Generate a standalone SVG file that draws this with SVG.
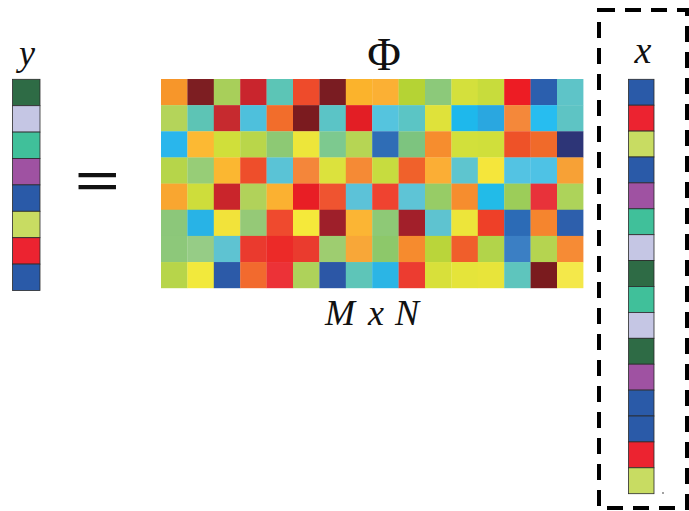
<svg xmlns="http://www.w3.org/2000/svg" width="689" height="511" viewBox="0 0 689 511">
<style>
.vc{stroke:#2a2a2a;stroke-width:0.8}
.lbl{font-family:"Liberation Serif","Times New Roman",serif;fill:#111}
.it{font-style:italic}
.box{fill:none;stroke:#000;stroke-width:4;stroke-dasharray:16 10}
</style>
<rect width="689" height="511" fill="#fff"/>
<g id="y-vector">
<text class="lbl it" x="27" y="65" font-size="36" text-anchor="middle">y</text>
<rect class="vc" x="12.5" y="79.3" width="27.5" height="26.4" fill="#2e6b45"/>
<rect class="vc" x="12.5" y="105.7" width="27.5" height="26.4" fill="#c5c6e4"/>
<rect class="vc" x="12.5" y="132.1" width="27.5" height="26.4" fill="#40c09a"/>
<rect class="vc" x="12.5" y="158.5" width="27.5" height="26.4" fill="#9f52a2"/>
<rect class="vc" x="12.5" y="184.9" width="27.5" height="26.4" fill="#2a5aa8"/>
<rect class="vc" x="12.5" y="211.3" width="27.5" height="26.4" fill="#c8dc62"/>
<rect class="vc" x="12.5" y="237.7" width="27.5" height="26.4" fill="#ec2330"/>
<rect class="vc" x="12.5" y="264.1" width="27.5" height="26.4" fill="#2a5aa8"/>
</g>
<g id="equals">
<text class="lbl" x="97.5" y="201" font-size="62" font-weight="bold" font-family="Liberation Sans, Arial, sans-serif" text-anchor="middle" transform="translate(97.5,0) scale(1.3,1) translate(-97.5,0)">=</text>
</g>
<g id="phi-matrix">
<text class="lbl" x="384" y="70" font-size="46" text-anchor="middle">Φ</text>
<g transform="translate(161,79)">
<rect x="0" y="0" width="26.6" height="26.4" fill="#f7962a"/><rect x="26.4" y="0" width="26.6" height="26.4" fill="#7d1e22"/><rect x="52.8" y="0" width="26.6" height="26.4" fill="#a8cf5a"/><rect x="79.2" y="0" width="26.6" height="26.4" fill="#c9252d"/><rect x="105.6" y="0" width="26.6" height="26.4" fill="#5cc5b6"/><rect x="132" y="0" width="26.6" height="26.4" fill="#ee4b2b"/><rect x="158.4" y="0" width="26.6" height="26.4" fill="#7a1c22"/><rect x="184.8" y="0" width="26.6" height="26.4" fill="#fbb32c"/><rect x="211.2" y="0" width="26.6" height="26.4" fill="#fbb034"/><rect x="237.6" y="0" width="26.6" height="26.4" fill="#b5d334"/><rect x="264" y="0" width="26.6" height="26.4" fill="#8cc97a"/><rect x="290.4" y="0" width="26.6" height="26.4" fill="#d4e03c"/><rect x="316.8" y="0" width="26.6" height="26.4" fill="#c8dc3c"/><rect x="343.2" y="0" width="26.6" height="26.4" fill="#ed1c24"/><rect x="369.6" y="0" width="26.6" height="26.4" fill="#2b5fae"/><rect x="396" y="0" width="26.4" height="26.4" fill="#5ec4c8"/>
<rect x="0" y="26.15" width="26.6" height="26.4" fill="#b4d45a"/><rect x="26.4" y="26.15" width="26.6" height="26.4" fill="#5dc4b5"/><rect x="52.8" y="26.15" width="26.6" height="26.4" fill="#c62a2f"/><rect x="79.2" y="26.15" width="26.6" height="26.4" fill="#4ec0dc"/><rect x="105.6" y="26.15" width="26.6" height="26.4" fill="#f26d2b"/><rect x="132" y="26.15" width="26.6" height="26.4" fill="#7b1b1f"/><rect x="158.4" y="26.15" width="26.6" height="26.4" fill="#5bc4c6"/><rect x="184.8" y="26.15" width="26.6" height="26.4" fill="#e31e25"/><rect x="211.2" y="26.15" width="26.6" height="26.4" fill="#55c4de"/><rect x="237.6" y="26.15" width="26.6" height="26.4" fill="#5bc5c5"/><rect x="264" y="26.15" width="26.6" height="26.4" fill="#dfe23a"/><rect x="290.4" y="26.15" width="26.6" height="26.4" fill="#1eb8ec"/><rect x="316.8" y="26.15" width="26.6" height="26.4" fill="#2aa7e0"/><rect x="343.2" y="26.15" width="26.6" height="26.4" fill="#f4883a"/><rect x="369.6" y="26.15" width="26.6" height="26.4" fill="#27bdf0"/><rect x="396" y="26.15" width="26.4" height="26.4" fill="#5ec4c4"/>
<rect x="0" y="52.3" width="26.6" height="26.4" fill="#29b6ec"/><rect x="26.4" y="52.3" width="26.6" height="26.4" fill="#fcb933"/><rect x="52.8" y="52.3" width="26.6" height="26.4" fill="#d0df3a"/><rect x="79.2" y="52.3" width="26.6" height="26.4" fill="#b9d64a"/><rect x="105.6" y="52.3" width="26.6" height="26.4" fill="#8dc974"/><rect x="132" y="52.3" width="26.6" height="26.4" fill="#ede63a"/><rect x="158.4" y="52.3" width="26.6" height="26.4" fill="#7dc98f"/><rect x="184.8" y="52.3" width="26.6" height="26.4" fill="#b6d554"/><rect x="211.2" y="52.3" width="26.6" height="26.4" fill="#2f6db6"/><rect x="237.6" y="52.3" width="26.6" height="26.4" fill="#7dc47f"/><rect x="264" y="52.3" width="26.6" height="26.4" fill="#f68d2e"/><rect x="290.4" y="52.3" width="26.6" height="26.4" fill="#d2e03b"/><rect x="316.8" y="52.3" width="26.6" height="26.4" fill="#d0df3b"/><rect x="343.2" y="52.3" width="26.6" height="26.4" fill="#ee5228"/><rect x="369.6" y="52.3" width="26.6" height="26.4" fill="#f06a2a"/><rect x="396" y="52.3" width="26.4" height="26.4" fill="#2d3577"/>
<rect x="0" y="78.45" width="26.6" height="26.4" fill="#b6d54a"/><rect x="26.4" y="78.45" width="26.6" height="26.4" fill="#97cd77"/><rect x="52.8" y="78.45" width="26.6" height="26.4" fill="#fbb731"/><rect x="79.2" y="78.45" width="26.6" height="26.4" fill="#ee4e2b"/><rect x="105.6" y="78.45" width="26.6" height="26.4" fill="#5ac3d6"/><rect x="132" y="78.45" width="26.6" height="26.4" fill="#f4863a"/><rect x="158.4" y="78.45" width="26.6" height="26.4" fill="#dce23d"/><rect x="184.8" y="78.45" width="26.6" height="26.4" fill="#f58a35"/><rect x="211.2" y="78.45" width="26.6" height="26.4" fill="#c7dc3f"/><rect x="237.6" y="78.45" width="26.6" height="26.4" fill="#f0612b"/><rect x="264" y="78.45" width="26.6" height="26.4" fill="#fbae35"/><rect x="290.4" y="78.45" width="26.6" height="26.4" fill="#5ec5cf"/><rect x="316.8" y="78.45" width="26.6" height="26.4" fill="#f5e63b"/><rect x="343.2" y="78.45" width="26.6" height="26.4" fill="#53c3e3"/><rect x="369.6" y="78.45" width="26.6" height="26.4" fill="#4ec2e5"/><rect x="396" y="78.45" width="26.4" height="26.4" fill="#f7a136"/>
<rect x="0" y="104.6" width="26.6" height="26.4" fill="#f9a630"/><rect x="26.4" y="104.6" width="26.6" height="26.4" fill="#cedd3b"/><rect x="52.8" y="104.6" width="26.6" height="26.4" fill="#c9252b"/><rect x="79.2" y="104.6" width="26.6" height="26.4" fill="#b1d25a"/><rect x="105.6" y="104.6" width="26.6" height="26.4" fill="#fbb131"/><rect x="132" y="104.6" width="26.6" height="26.4" fill="#e81e25"/><rect x="158.4" y="104.6" width="26.6" height="26.4" fill="#ef5430"/><rect x="184.8" y="104.6" width="26.6" height="26.4" fill="#5cc2d8"/><rect x="211.2" y="104.6" width="26.6" height="26.4" fill="#ef4330"/><rect x="237.6" y="104.6" width="26.6" height="26.4" fill="#5ec4d6"/><rect x="264" y="104.6" width="26.6" height="26.4" fill="#97cc66"/><rect x="290.4" y="104.6" width="26.6" height="26.4" fill="#f68d2e"/><rect x="316.8" y="104.6" width="26.6" height="26.4" fill="#22bbe8"/><rect x="343.2" y="104.6" width="26.6" height="26.4" fill="#9ccd59"/><rect x="369.6" y="104.6" width="26.6" height="26.4" fill="#e8323a"/><rect x="396" y="104.6" width="26.4" height="26.4" fill="#add35a"/>
<rect x="0" y="130.75" width="26.6" height="26.4" fill="#8cc77a"/><rect x="26.4" y="130.75" width="26.6" height="26.4" fill="#28b3e6"/><rect x="52.8" y="130.75" width="26.6" height="26.4" fill="#f2e33a"/><rect x="79.2" y="130.75" width="26.6" height="26.4" fill="#95c977"/><rect x="105.6" y="130.75" width="26.6" height="26.4" fill="#ef4a2e"/><rect x="132" y="130.75" width="26.6" height="26.4" fill="#f5e93a"/><rect x="158.4" y="130.75" width="26.6" height="26.4" fill="#9e1f2a"/><rect x="184.8" y="130.75" width="26.6" height="26.4" fill="#fbb534"/><rect x="211.2" y="130.75" width="26.6" height="26.4" fill="#8ec976"/><rect x="237.6" y="130.75" width="26.6" height="26.4" fill="#a21f2a"/><rect x="264" y="130.75" width="26.6" height="26.4" fill="#5ec3d0"/><rect x="290.4" y="130.75" width="26.6" height="26.4" fill="#ede53a"/><rect x="316.8" y="130.75" width="26.6" height="26.4" fill="#ee4028"/><rect x="343.2" y="130.75" width="26.6" height="26.4" fill="#2c6bb6"/><rect x="369.6" y="130.75" width="26.6" height="26.4" fill="#f5852e"/><rect x="396" y="130.75" width="26.4" height="26.4" fill="#2d5fac"/>
<rect x="0" y="156.9" width="26.6" height="26.4" fill="#8dc87a"/><rect x="26.4" y="156.9" width="26.6" height="26.4" fill="#96cc86"/><rect x="52.8" y="156.9" width="26.6" height="26.4" fill="#5ec3d2"/><rect x="79.2" y="156.9" width="26.6" height="26.4" fill="#ea3a2e"/><rect x="105.6" y="156.9" width="26.6" height="26.4" fill="#ec2a28"/><rect x="132" y="156.9" width="26.6" height="26.4" fill="#ea3b2e"/><rect x="158.4" y="156.9" width="26.6" height="26.4" fill="#9ecd70"/><rect x="184.8" y="156.9" width="26.6" height="26.4" fill="#f8a738"/><rect x="211.2" y="156.9" width="26.6" height="26.4" fill="#8dc86a"/><rect x="237.6" y="156.9" width="26.6" height="26.4" fill="#f68b2e"/><rect x="264" y="156.9" width="26.6" height="26.4" fill="#bad53a"/><rect x="290.4" y="156.9" width="26.6" height="26.4" fill="#f05e2b"/><rect x="316.8" y="156.9" width="26.6" height="26.4" fill="#b2d44a"/><rect x="343.2" y="156.9" width="26.6" height="26.4" fill="#3b7fc4"/><rect x="369.6" y="156.9" width="26.6" height="26.4" fill="#b5d450"/><rect x="396" y="156.9" width="26.4" height="26.4" fill="#f68b35"/>
<rect x="0" y="183.05" width="26.6" height="26.15" fill="#b7d54a"/><rect x="26.4" y="183.05" width="26.6" height="26.15" fill="#f2e93c"/><rect x="52.8" y="183.05" width="26.6" height="26.15" fill="#2c5aa8"/><rect x="79.2" y="183.05" width="26.6" height="26.15" fill="#f26a2e"/><rect x="105.6" y="183.05" width="26.6" height="26.15" fill="#ec3237"/><rect x="132" y="183.05" width="26.6" height="26.15" fill="#aed25a"/><rect x="158.4" y="183.05" width="26.6" height="26.15" fill="#2c57a6"/><rect x="184.8" y="183.05" width="26.6" height="26.15" fill="#5ec5b8"/><rect x="211.2" y="183.05" width="26.6" height="26.15" fill="#2bb5e5"/><rect x="237.6" y="183.05" width="26.6" height="26.15" fill="#ec3c30"/><rect x="264" y="183.05" width="26.6" height="26.15" fill="#d8e03a"/><rect x="290.4" y="183.05" width="26.6" height="26.15" fill="#e5e43a"/><rect x="316.8" y="183.05" width="26.6" height="26.15" fill="#e8e43a"/><rect x="343.2" y="183.05" width="26.6" height="26.15" fill="#5ec5bd"/><rect x="369.6" y="183.05" width="26.6" height="26.15" fill="#7a1b1e"/><rect x="396" y="183.05" width="26.4" height="26.15" fill="#f4e84a"/>
</g>
<text class="lbl it" y="325" font-size="36"><tspan x="325">M</tspan><tspan x="368">x</tspan><tspan x="395">N</tspan></text>
</g>
<g id="x-vector">
<rect class="box" x="599" y="10" width="88" height="498"/>
<text class="lbl it" x="643" y="63" font-size="38" text-anchor="middle">x</text>
<rect class="vc" x="628.5" y="79.3" width="25.5" height="25.9" fill="#2a5aa8"/>
<rect class="vc" x="628.5" y="105.2" width="25.5" height="25.9" fill="#ec2330"/>
<rect class="vc" x="628.5" y="131.1" width="25.5" height="25.9" fill="#c8dc62"/>
<rect class="vc" x="628.5" y="157" width="25.5" height="25.9" fill="#2a5aa8"/>
<rect class="vc" x="628.5" y="182.9" width="25.5" height="25.9" fill="#9f52a2"/>
<rect class="vc" x="628.5" y="208.8" width="25.5" height="25.9" fill="#40c09a"/>
<rect class="vc" x="628.5" y="234.7" width="25.5" height="25.9" fill="#c5c6e4"/>
<rect class="vc" x="628.5" y="260.6" width="25.5" height="25.9" fill="#2e6b45"/>
<rect class="vc" x="628.5" y="286.5" width="25.5" height="25.9" fill="#40c09a"/>
<rect class="vc" x="628.5" y="312.4" width="25.5" height="25.9" fill="#c5c6e4"/>
<rect class="vc" x="628.5" y="338.3" width="25.5" height="25.9" fill="#2e6b45"/>
<rect class="vc" x="628.5" y="364.2" width="25.5" height="25.9" fill="#9f52a2"/>
<rect class="vc" x="628.5" y="390.1" width="25.5" height="25.9" fill="#2a5aa8"/>
<rect class="vc" x="628.5" y="416" width="25.5" height="25.9" fill="#2a5aa8"/>
<rect class="vc" x="628.5" y="441.9" width="25.5" height="25.9" fill="#ec2330"/>
<rect class="vc" x="628.5" y="467.8" width="25.5" height="25.9" fill="#c8dc62"/>
<circle cx="663" cy="493" r="0.9" fill="#777"/>
</g>
</svg>
